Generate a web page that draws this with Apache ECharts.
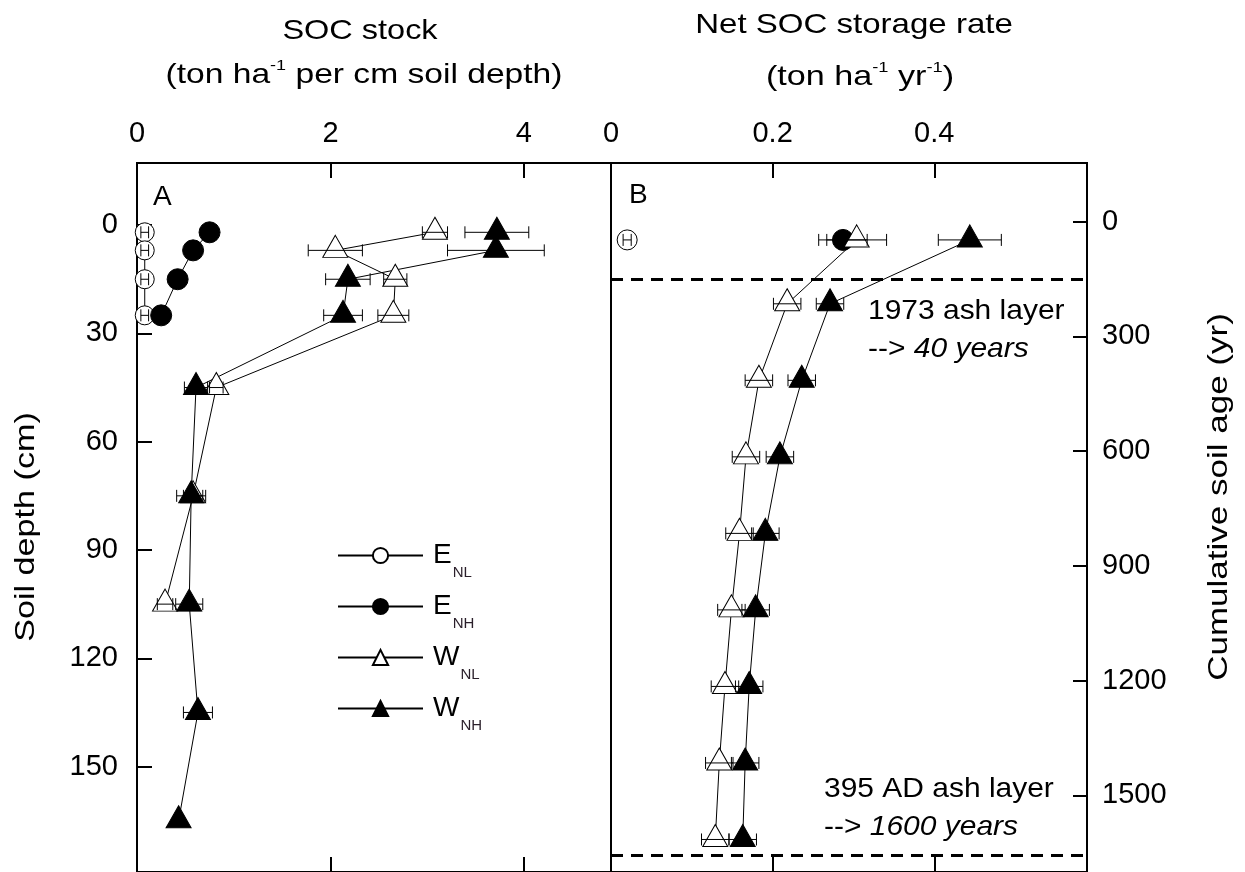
<!DOCTYPE html>
<html>
<head>
<meta charset="utf-8">
<script src="https://cdn.jsdelivr.net/npm/echarts@6/dist/echarts.min.js"></script>
<style>html,body{margin:0;padding:0;background:#fff}#chart{width:1245px;height:872px}</style>
</head>
<body>
<div id="chart"></div>
<script>
// ---------------- data ----------------
// Panel A: SOC stock (ton ha-1 per cm) vs soil depth (cm)
const depthA   = [2, 7, 15, 25, 45, 75, 105, 135, 165];
const enlA     = [0.08, 0.08, 0.08, 0.08];
const enlAErr  = [0.04, 0.04, 0.04, 0.04];
const enhA     = [0.75, 0.58, 0.42, 0.25];
const enhAErr  = [0, 0, 0, 0];
const wnlA     = [3.08, 2.05, 2.67, 2.65, 0.82, 0.58, 0.29];
const wnlAErr  = [0.13, 0.28, 0.12, 0.16, 0.07, 0.10, 0.08];
const wnhA     = [3.72, 3.71, 2.18, 2.13, 0.61, 0.56, 0.54, 0.63, 0.43];
const wnhAErr  = [0.33, 0.50, 0.23, 0.20, 0.12, 0.15, 0.14, 0.15, 0];

// Panel B: net SOC storage rate (ton ha-1 yr-1) vs cumulative soil age (yr)
const ageB     = [48, 215, 415, 615, 815, 1015, 1215, 1415, 1615];
const enlB     = [0.020];
const enlBErr  = [0.005];
const enhB     = [0.287];
const enhBErr  = [0.030];
const wnlB     = [0.304, 0.218, 0.183, 0.167, 0.159, 0.149, 0.141, 0.134, 0.129];
const wnlBErr  = [0.037, 0.017, 0.017, 0.017, 0.017, 0.017, 0.017, 0.017, 0.017];
const wnhB     = [0.444, 0.271, 0.236, 0.209, 0.191, 0.179, 0.171, 0.166, 0.163];
const wnhBErr  = [0.039, 0.017, 0.017, 0.017, 0.017, 0.017, 0.017, 0.017, 0.017];

const ashLayerAges = [152, 1656];

const stockTicks = [0, 2, 4];
const rateTicks  = [0, 0.2, 0.4];
const depthTicks = [0, 30, 60, 90, 120, 150];
const ageTicks   = [0, 300, 600, 900, 1200, 1500];

const seriesNames = ['E_NL', 'E_NH', 'W_NL', 'W_NH'];

// ---------------- helpers ----------------
const FONT = "'Liberation Sans', Arial, sans-serif";
const pairs = (xs, ys) => xs.map((x, i) => [x, ys[i]]);
const errRows = (xs, es, ys) => xs.map((x, i) => [x - es[i], x + es[i], ys[i], es[i]]).filter(r => r[3] > 0);

function errSeries(xi, yi, rows) {
  return {
    type: 'custom', xAxisIndex: xi, yAxisIndex: yi, z: 10, silent: true,
    data: rows, encode: { x: [0, 1], y: 2 },
    renderItem: function (params, api) {
      const y = api.value(2);
      const p1 = api.coord([api.value(0), y]);
      const p2 = api.coord([api.value(1), y]);
      const c = 6;
      const st = { stroke: '#000', lineWidth: 1 };
      return { type: 'group', children: [
        { type: 'line', shape: { x1: p1[0], y1: p1[1], x2: p2[0], y2: p2[1] }, style: st },
        { type: 'line', shape: { x1: p1[0], y1: p1[1] - c, x2: p1[0], y2: p1[1] + c }, style: st },
        { type: 'line', shape: { x1: p2[0], y1: p2[1] - c, x2: p2[0], y2: p2[1] + c }, style: st }
      ]};
    }
  };
}

const openStyle  = { color: '#fff', borderColor: '#000', borderWidth: 1 };
const solidStyle = { color: '#000', borderColor: '#000', borderWidth: 1 };
const lineSt = { color: '#000', width: 1 };

function lineSeries(name, xi, yi, data, symbol, size, style, extra) {
  return Object.assign({
    name: name, type: 'line', xAxisIndex: xi, yAxisIndex: yi, data: data,
    symbol: symbol, symbolSize: size, showSymbol: true, showAllSymbol: true,
    symbolOffset: symbol === 'triangle' ? [0, -4] : [0, 0],
    itemStyle: style, lineStyle: lineSt, emphasis: { disabled: true }, silent: true
  }, extra || {});
}

const tickStyle = { color: '#000', width: 2 };
const axisLineStyle = { show: true, onZero: false, lineStyle: { color: '#000', width: 2 } };
const labelBase = { color: '#000', fontSize: 29, fontFamily: FONT, formatter: v => String(v) };

const option = {
  animation: false,
  backgroundColor: '#fff',
  grid: [
    { left: 137, top: 163, width: 474, height: 711, show: true, borderColor: '#000', borderWidth: 2, backgroundColor: 'transparent' },
    { left: 611, top: 163, width: 476, height: 711, show: true, borderColor: '#000', borderWidth: 2, backgroundColor: 'transparent' }
  ],
  xAxis: [
    { gridIndex: 0, type: 'value', position: 'top', min: 0, max: 4.9,
      axisLine: axisLineStyle, splitLine: { show: false },
      axisTick: { inside: true, length: 15, lineStyle: tickStyle, customValues: stockTicks },
      axisLabel: Object.assign({ margin: 15, customValues: stockTicks }, labelBase) },
    { gridIndex: 0, type: 'value', position: 'bottom', min: 0, max: 4.9,
      axisLine: axisLineStyle, splitLine: { show: false },
      axisTick: { inside: true, length: 15, lineStyle: tickStyle, customValues: stockTicks.slice(1) },
      axisLabel: { show: false } },
    { gridIndex: 1, type: 'value', position: 'top', min: 0, max: 0.589,
      axisLine: axisLineStyle, splitLine: { show: false },
      axisTick: { inside: true, length: 15, lineStyle: tickStyle, customValues: rateTicks.slice(1) },
      axisLabel: Object.assign({ margin: 15, customValues: rateTicks }, labelBase) },
    { gridIndex: 1, type: 'value', position: 'bottom', min: 0, max: 0.589,
      axisLine: axisLineStyle, splitLine: { show: false },
      axisTick: { inside: true, length: 15, lineStyle: tickStyle, customValues: rateTicks.slice(1) },
      axisLabel: { show: false } }
  ],
  yAxis: [
    { gridIndex: 0, type: 'value', position: 'left', inverse: true, min: -17.2, max: 179.2,
      axisLine: axisLineStyle, splitLine: { show: false },
      axisTick: { inside: true, length: 15, lineStyle: tickStyle, customValues: depthTicks },
      axisLabel: Object.assign({ margin: 19, customValues: depthTicks }, labelBase) },
    { gridIndex: 1, type: 'value', position: 'right', inverse: true, min: -153, max: 1700,
      axisLine: axisLineStyle, splitLine: { show: false },
      axisTick: { inside: true, length: 14, lineStyle: tickStyle, customValues: ageTicks },
      axisLabel: Object.assign({ margin: 15, customValues: ageTicks }, labelBase) }
  ],
  legend: {
    orient: 'vertical', left: 337, top: 531, padding: 0,
    itemWidth: 85, itemHeight: 19, itemGap: 2,
    data: seriesNames, selectedMode: false,
    formatter: function (n) { const p = n.split('_'); return '{m|' + p[0] + '}{s|' + p[1] + '}'; },
    textStyle: {
      rich: {
        m: { fontSize: 28, fontFamily: FONT, color: '#000', lineHeight: 30, padding: [0, 0, 0, 5] },
        s: { fontSize: 15, fontFamily: FONT, color: '#2a1f2a', lineHeight: 15, padding: [34, 0, 0, 1] }
      }
    }
  },
  series: [
    // Panel A
    lineSeries('E_NL', 0, 0, pairs(enlA, depthA), 'circle', 19, openStyle),
    lineSeries('E_NH', 0, 0, pairs(enhA, depthA), 'circle', 21, solidStyle),
    lineSeries('W_NL', 0, 0, pairs(wnlA, depthA), 'triangle', [25, 22], openStyle),
    lineSeries('W_NH', 0, 0, pairs(wnhA, depthA), 'triangle', [25, 22], solidStyle),
    errSeries(0, 0, [].concat(
      errRows(enlA, enlAErr, depthA), errRows(enhA, enhAErr, depthA),
      errRows(wnlA, wnlAErr, depthA), errRows(wnhA, wnhAErr, depthA))),
    // Panel B
    lineSeries('E_NL', 2, 1, pairs(enlB, ageB), 'circle', 20, openStyle),
    lineSeries('E_NH', 2, 1, pairs(enhB, ageB), 'circle', 21, solidStyle),
    lineSeries('W_NL', 2, 1, pairs(wnlB, ageB), 'triangle', [25, 22], openStyle),
    lineSeries('W_NH', 2, 1, pairs(wnhB, ageB), 'triangle', [25, 22], solidStyle, {
      markLine: {
        silent: true, symbol: ['none', 'none'], label: { show: false },
        lineStyle: { color: '#000', width: 3, type: [12, 8] },
        data: ashLayerAges.map(v => ({ yAxis: v }))
      }
    }),
    errSeries(2, 1, [].concat(
      errRows(enlB, enlBErr, ageB), errRows(enhB, enhBErr, ageB),
      errRows(wnlB, wnlBErr, ageB), errRows(wnhB, wnhBErr, ageB)))
  ],
  graphic: [
    { type: 'text', x: 360, y: 31, scaleX: 1.16, silent: true,
      style: { text: 'SOC stock', fontSize: 28, fontFamily: FONT, fill: '#000', align: 'center', verticalAlign: 'middle', textAlign: 'center', textVerticalAlign: 'middle' } },
    { type: 'text', x: 364, y: 75, scaleX: 1.2, silent: true,
      style: { text: '(ton ha{sup|-1} per cm soil depth)', fontSize: 28, fontFamily: FONT, fill: '#000', lineHeight: 34,
        align: 'center', verticalAlign: 'middle', textAlign: 'center', textVerticalAlign: 'middle',
        rich: { sup: { fontSize: 15, fontFamily: FONT, fill: '#000', verticalAlign: 'top', lineHeight: 16 } } } },
    { type: 'text', x: 854, y: 25, scaleX: 1.18, silent: true,
      style: { text: 'Net SOC storage rate', fontSize: 28, fontFamily: FONT, fill: '#000', align: 'center', verticalAlign: 'middle', textAlign: 'center', textVerticalAlign: 'middle' } },
    { type: 'text', x: 860, y: 77, scaleX: 1.22, silent: true,
      style: { text: '(ton ha{sup|-1} yr{sup|-1})', fontSize: 28, fontFamily: FONT, fill: '#000', lineHeight: 34,
        align: 'center', verticalAlign: 'middle', textAlign: 'center', textVerticalAlign: 'middle',
        rich: { sup: { fontSize: 15, fontFamily: FONT, fill: '#000', verticalAlign: 'top', lineHeight: 16 } } } },
    { type: 'text', x: 26, y: 527, rotation: Math.PI / 2, scaleX: 1.22, silent: true,
      style: { text: 'Soil depth (cm)', fontSize: 28, fontFamily: FONT, fill: '#000', align: 'center', verticalAlign: 'middle', textAlign: 'center', textVerticalAlign: 'middle' } },
    { type: 'text', x: 1219, y: 497, rotation: Math.PI / 2, scaleX: 1.25, silent: true,
      style: { text: 'Cumulative soil age (yr)', fontSize: 28, fontFamily: FONT, fill: '#000', align: 'center', verticalAlign: 'middle', textAlign: 'center', textVerticalAlign: 'middle' } },
    { type: 'text', x: 153, y: 197, silent: true,
      style: { text: 'A', fontSize: 28, fontFamily: FONT, fill: '#000', align: 'left', verticalAlign: 'middle', textAlign: 'left', textVerticalAlign: 'middle' } },
    { type: 'text', x: 629, y: 195, silent: true,
      style: { text: 'B', fontSize: 28, fontFamily: FONT, fill: '#000', align: 'left', verticalAlign: 'middle', textAlign: 'left', textVerticalAlign: 'middle' } },
    { type: 'text', x: 868, y: 311, scaleX: 1.07, silent: true,
      style: { text: '1973 ash layer', fontSize: 28, fontFamily: FONT, fill: '#000', align: 'left', verticalAlign: 'middle', textAlign: 'left', textVerticalAlign: 'middle' } },
    { type: 'text', x: 868, y: 349, scaleX: 1.07, silent: true,
      style: { text: '{n|--> }{i|40 years}', fontSize: 28, fontFamily: FONT, fill: '#000', align: 'left', verticalAlign: 'middle', textAlign: 'left', textVerticalAlign: 'middle',
        rich: { n: { fontSize: 28, fontFamily: FONT, fill: '#000' }, i: { fontSize: 28, fontFamily: FONT, fontStyle: 'italic', fill: '#000' } } } },
    { type: 'text', x: 824, y: 789, scaleX: 1.07, silent: true,
      style: { text: '395 AD ash layer', fontSize: 28, fontFamily: FONT, fill: '#000', align: 'left', verticalAlign: 'middle', textAlign: 'left', textVerticalAlign: 'middle' } },
    { type: 'text', x: 824, y: 827, scaleX: 1.07, silent: true,
      style: { text: '{n|--> }{i|1600 years}', fontSize: 28, fontFamily: FONT, fill: '#000', align: 'left', verticalAlign: 'middle', textAlign: 'left', textVerticalAlign: 'middle',
        rich: { n: { fontSize: 28, fontFamily: FONT, fill: '#000' }, i: { fontSize: 28, fontFamily: FONT, fontStyle: 'italic', fill: '#000' } } } }
  ]
};

const chart = echarts.init(document.getElementById('chart'), null, { renderer: 'canvas' });
chart.setOption(option);
</script>
</body>
</html>
